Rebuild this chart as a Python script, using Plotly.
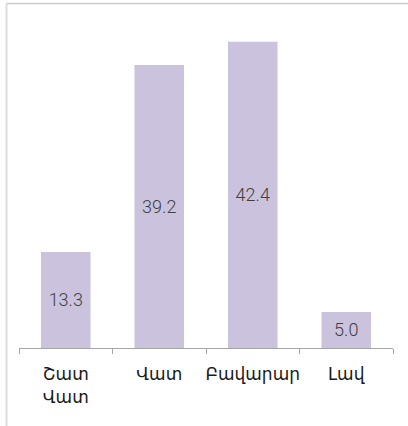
import plotly.graph_objects as go

categories = ["Շատ<br>Վատ", "Վատ", "Բավարար", "Լավ"]
values = [13.3, 39.2, 42.4, 5.0]
labels = ["13.3", "39.2", "42.4", "5.0"]

W, H = 408, 426
L, R, T, B = 19, 15, 20, 78
ph = H - T - B
pw = W - L - R

fig = go.Figure(go.Bar(
    x=categories, y=values, text=labels, textposition="inside",
    insidetextanchor="middle",
    textfont=dict(family="Roboto", size=18, color="#404040", weight=300),
    marker=dict(color="#cbc3dd", line=dict(width=0)),
    width=0.53, cliponaxis=False,
))

def px_x(p):
    return (p - L) / pw

def px_y(p):
    return (H - B - p) / ph

fig.update_layout(
    width=W, height=H,
    margin=dict(l=L, r=R, t=T, b=B, autoexpand=False),
    paper_bgcolor="white", plot_bgcolor="white",
    font=dict(family="DejaVu Sans, Noto Sans", size=17, color="#1a1a1a"),
    showlegend=False,
    xaxis=dict(
        showline=True, linecolor="#a6a6a6", linewidth=1,
        ticks="outside", ticklen=5, tickcolor="#a6a6a6",
        tickson="boundaries", showgrid=False,
        ticklabelstandoff=11, tickangle=0, automargin=False,
        tickfont=dict(size=17, color="#1a1a1a"),
    ),
    yaxis=dict(range=[0, ph / 7.22], visible=False, showgrid=False,
               zeroline=False, automargin=False),
    shapes=[
        dict(type="line", xref="paper", yref="paper",
             x0=px_x(6.5), x1=px_x(6.5), y0=px_y(3.5), y1=px_y(440),
             line=dict(color="#dddddd", width=2)),
        dict(type="line", xref="paper", yref="paper",
             x0=px_x(6.5), x1=px_x(420), y0=px_y(3.5), y1=px_y(3.5),
             line=dict(color="#cccccc", width=1.5)),
    ],
)

fig.write_html(
    "out.html",
    config={"displayModeBar": False},
    post_script="document.body.style.margin='0';document.body.style.overflow='hidden';",
)
